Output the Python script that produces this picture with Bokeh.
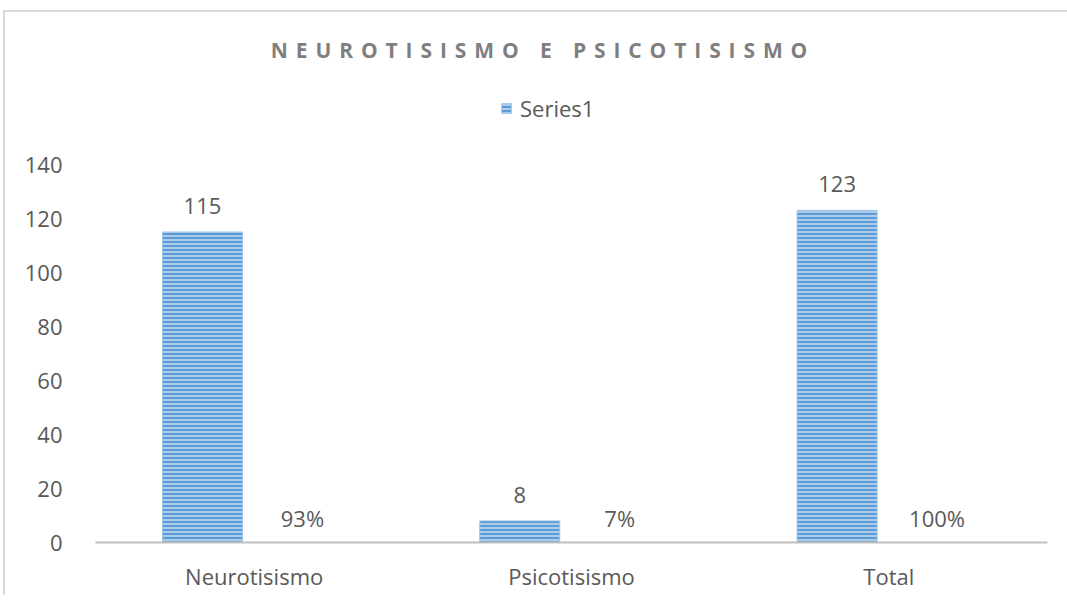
from bokeh.plotting import figure
from bokeh.models import (FactorRange, Range1d, Legend, LegendItem, ColumnDataSource,
                          Div, FixedTicker)
from bokeh.layouts import column
from bokeh.transform import dodge
from bokeh.embed import file_html
from bokeh.resources import INLINE
from bokeh.core.properties import value

# ---- data ----
categories = ["Neurotisismo", "Psicotisismo", "Total"]
counts = [115, 8, 123]
percents = [93, 7, 100]
count_labels = [str(v) for v in counts]
pct_labels = [f"{v}%" for v in percents]
y_ticks = [0, 20, 40, 60, 80, 100, 120, 140]
title_text = "NEUROTISISMO E PSICOTISISMO"
series_name = "Series1"

FONT = "Open Sans"
TXT = "#595959"
FS = "22px"
W = 1058

src = ColumnDataSource(dict(cat=categories, count=counts, clab=count_labels,
                            pct=percents, plab=pct_labels, zero=[0] * len(categories)))

title_div = Div(
    text=(f'<div style="width:{W}px;text-align:center;padding-top:21px;'
          f'padding-left:8px;box-sizing:border-box;font-family:\'Open Sans\';font-weight:bold;'
          f'font-size:21px;line-height:24px;letter-spacing:7.9px;color:#7f7f7f;">{title_text}</div>'),
    width=W, height=59)

p = figure(x_range=FactorRange(factors=categories, range_padding=0),
           y_range=Range1d(0, 170),
           width=W, height=514, output_backend="svg", toolbar_location=None,
           min_border_left=90, min_border_right=16, min_border_top=2, min_border_bottom=53)
p.outline_line_color = None
p.xgrid.grid_line_color = None
p.ygrid.grid_line_color = None

bars = p.vbar(x=dodge("cat", -0.163, range=p.x_range), top="count", width=0.252, source=src,
              fill_color="#5b9bd5", line_color="#9cc2ea", line_width=1,
              hatch_pattern="horizontal_line", hatch_color="#cfe2f5",
              hatch_scale=4, hatch_weight=1.4)

p.text(x=dodge("cat", -0.163, range=p.x_range), y="count", text="clab", source=src,
       text_align="center", text_baseline="middle", y_offset=-26,
       text_font=value(FONT), text_font_size=FS, text_color=TXT)
p.text(x=dodge("cat", 0.152, range=p.x_range), y="zero", text="plab", source=src,
       text_align="center", text_baseline="middle", y_offset=-25,
       text_font=value(FONT), text_font_size=FS, text_color=TXT)

p.yaxis.ticker = FixedTicker(ticks=y_ticks)
p.yaxis.axis_line_color = None
p.yaxis.major_tick_line_color = None
p.yaxis.minor_tick_line_color = None
p.yaxis.major_label_standoff = 27
p.yaxis.major_label_text_font = FONT
p.yaxis.major_label_text_font_size = FS
p.yaxis.major_label_text_color = TXT

p.xaxis.axis_line_color = "#bfbfbf"
p.xaxis.axis_line_width = 2
p.xaxis.major_tick_line_color = None
p.xaxis.minor_tick_line_color = None
p.xaxis.major_label_standoff = 12
p.xaxis.major_label_text_font = FONT
p.xaxis.major_label_text_font_size = FS
p.xaxis.major_label_text_color = TXT

legend = Legend(items=[LegendItem(label=series_name, renderers=[bars])],
                location=(405, 419), orientation="horizontal",
                glyph_width=12, glyph_height=12, label_standoff=8, padding=0, margin=0,
                border_line_color=None, background_fill_alpha=0,
                label_text_font=FONT, label_text_font_size=FS, label_text_color=TXT)
p.add_layout(legend, "center")

layout = column(title_div, p, spacing=0,
                styles={"border-left": "2px solid #d9d9d9", "border-top": "2px solid #d9d9d9",
                        "margin-left": "3px", "margin-top": "10px"})

open("out.html", "w").write(file_html(layout, INLINE))
